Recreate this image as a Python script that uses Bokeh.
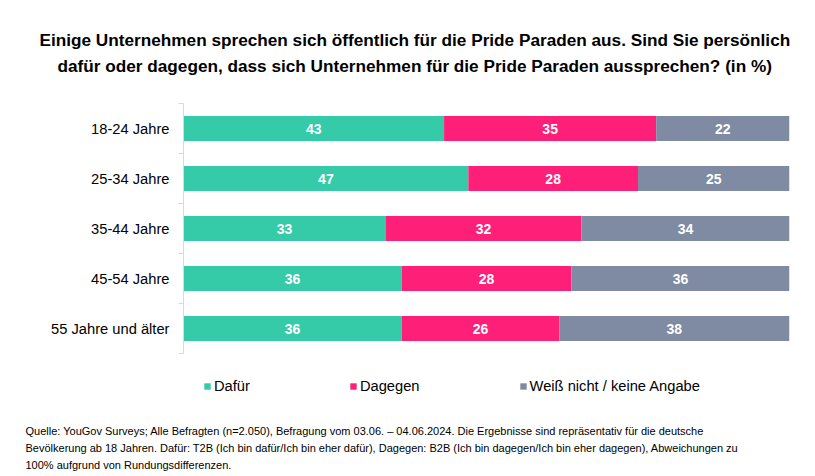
from bokeh.plotting import figure
from bokeh.models import (ColumnDataSource, Range1d, FixedTicker, Legend, LegendItem, Title)
from bokeh.core.properties import value
from bokeh.embed import file_html
from bokeh.resources import INLINE

categories = ["18-24 Jahre", "25-34 Jahre", "35-44 Jahre", "45-54 Jahre", "55 Jahre und älter"]
dafuer = [43, 47, 33, 36, 36]
dagegen = [35, 28, 32, 28, 26]
weiss_nicht = [22, 25, 34, 36, 38]
series_names = ["Dafür", "Dagegen", "Weiß nicht / keine Angabe"]
colors = ["#35CAA8", "#FE1F78", "#7F8AA3"]

title_lines = [
    "Einige Unternehmen sprechen sich öffentlich für die Pride Paraden aus. Sind Sie persönlich",
    "dafür oder dagegen, dass sich Unternehmen für die Pride Paraden aussprechen? (in %)",
]
footer_lines = [
    "Quelle: YouGov Surveys; Alle Befragten (n=2.050), Befragung vom 03.06. – 04.06.2024. Die Ergebnisse sind repräsentativ für die deutsche",
    "Bevölkerung ab 18 Jahren. Dafür: T2B (Ich bin dafür/Ich bin eher dafür), Dagegen: B2B (Ich bin dagegen/Ich bin eher dagegen), Abweichungen zu",
    "100% aufgrund von Rundungsdifferenzen.",
]

FONT = "Liberation Sans"

W, H = 815, 476
TOP, BOTTOM, LEFT, RIGHT = 103, 80, 183, 26
ROW_PX = 50.0
n = len(categories)
frame_h = H - TOP - BOTTOM
y_end = -0.5 + frame_h / ROW_PX

p = figure(width=W, height=H, output_backend="svg", toolbar_location=None,
           x_range=Range1d(0, 100), y_range=Range1d(y_end, -0.5),
           min_border_left=LEFT, min_border_right=RIGHT, min_border_top=TOP, min_border_bottom=BOTTOM,
           x_axis_location=None, y_axis_location="left")
p.outline_line_color = None
p.grid.visible = False
p.background_fill_color = "white"
p.border_fill_color = "white"

# normalise rows to 100 %
series = [dafuer, dagegen, weiss_nicht]
idx = list(range(n))
totals = [sum(s[i] for s in series) for i in idx]
norm = [[s[i] * 100.0 / totals[i] for i in idx] for s in series]

renderers = []
left = [0.0] * n
for k, (vals, name, col) in enumerate(zip(norm, series_names, colors)):
    right = [l + v for l, v in zip(left, vals)]
    src = ColumnDataSource(dict(y=idx, left=left, right=right,
                                mid=[(l + r) / 2 for l, r in zip(left, right)],
                                lab=[str(v) for v in series[k]]))
    r = p.hbar(y="y", left="left", right="right", height=0.5, source=src,
               fill_color=col, line_color=None)
    p.text(x="mid", y="y", text="lab", source=src, text_color="white",
           text_font=value(FONT), text_font_style="bold", text_font_size="14px",
           text_align="center", text_baseline="middle")
    renderers.append((name, r))
    left = right

ax = p.yaxis[0]
ax.ticker = FixedTicker(ticks=idx, minor_ticks=[i - 0.5 for i in range(n + 1)])
ax.bounds = (-0.5, n - 0.5)
ax.major_label_overrides = {i: c for i, c in zip(idx, categories)}
ax.major_tick_line_color = None
ax.minor_tick_line_color = "#D9D9D9"
ax.minor_tick_out = 5
ax.minor_tick_in = 0
ax.axis_line_color = "#D9D9D9"
ax.major_label_text_font = FONT
ax.major_label_text_font_size = "14.7px"
ax.major_label_text_color = "#000000"
ax.major_label_standoff = 8

legend = Legend(items=[LegendItem(label=nm, renderers=[r]) for nm, r in renderers],
                orientation="horizontal", location=(20, 2),
                glyph_width=8, glyph_height=8, label_standoff=3, spacing=99,
                margin=0, padding=0, border_line_color=None,
                background_fill_alpha=0,
                label_text_font=FONT, label_text_font_size="14.7px",
                label_text_color="#000000")
p.add_layout(legend)

# title: spacer nearest the frame, then lines from bottom to top
p.add_layout(Title(text=" ", text_font=FONT, text_font_size="10px", standoff=13), "above")
title_starts = [39, 57]
for t, x0 in reversed(list(zip(title_lines, title_starts))):
    p.add_layout(Title(text=t, align="left", offset=x0 - LEFT, text_font=FONT, text_font_style="bold",
                       text_font_size="17.2px", text_color="#000000", standoff=4), "above")

# footer: spacer nearest the frame, then lines from top to bottom
p.add_layout(Title(text=" ", text_font=FONT, text_font_size="10px", standoff=12), "below")
for t in footer_lines:
    p.add_layout(Title(text=t, align="left", offset=25 - LEFT, text_font=FONT,
                       text_font_style="normal", text_font_size="11px",
                       text_color="#000000", standoff=2.5), "below")

open("out.html", "w").write(file_html(p, INLINE))
